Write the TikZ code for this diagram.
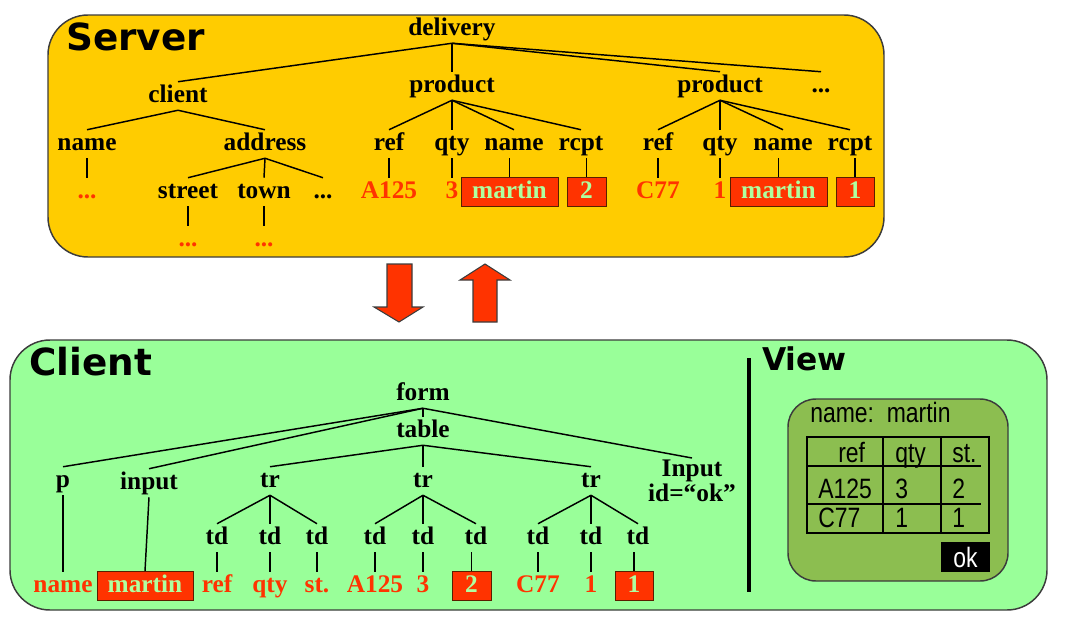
\documentclass[tikz,border=0pt]{standalone}
\usepackage{fontspec}
\setmainfont{Liberation Serif}
\newfontfamily\titlefont{DejaVu Sans}
\newfontfamily\narrowfont[FakeStretch=0.82]{Liberation Sans}
\definecolor{jaune}{RGB}{255, 204, 0}
\definecolor{vert}{RGB}{153, 255, 153}
\definecolor{olive}{RGB}{140, 190, 80}
\definecolor{rouge}{RGB}{255, 51, 0}
\definecolor{clair}{RGB}{175, 255, 160}
\definecolor{bord}{RGB}{60, 60, 60}
\definecolor{brun}{RGB}{90, 30, 0}

\begin{document}
\begin{tikzpicture}[x=0.75pt,y=-0.75pt, % 1 unite = 1 pixel
	lbl/.style={font=\bfseries\fontsize{19}{19}\selectfont, inner sep=1pt, text height=14pt, text depth=5pt, anchor=base},
	val/.style={lbl, text=rouge},
	boite/.style={lbl, draw=brun, fill=rouge, text=clair, inner ysep=1.5pt, minimum width=#1},
	titre/.style={font=\titlefont\bfseries\fontsize{28}{28}\selectfont, anchor=base west, inner sep=0pt},
	vtxt/.style={font=\narrowfont\fontsize{21}{21}\selectfont, inner sep=0pt, anchor=base west},
	trait/.style={line width=1.1pt}]
				\useasboundingbox (0,0) rectangle (1071,628);
				% les deux cadres
				\draw[bord, line width=1.1pt, fill=jaune, rounded corners=30] (48,15) rectangle (884,257);
				\draw[bord, line width=1.1pt, fill=vert, rounded corners=30] (10,340) rectangle (1047,610);
				\node[titre] (srv) at (66,50) {Server};
				\node[titre] (clt) at (29,375) {Client};
				\node[titre, font=\titlefont\bfseries\fontsize{23.5}{24}\selectfont] (vue) at (762,370) {View};
				% les fleches
				\draw[bord, fill=rouge, line width=0.8pt] (387,264) -- (412,264) -- (412,307) -- (423,307) -- (399,322) -- (374,307) -- (387,307) -- cycle;
				\draw[bord, fill=rouge, line width=0.8pt] (473,322) -- (497,322) -- (497,280) -- (510,280) -- (485,264) -- (460,280) -- (473,280) -- cycle;
				% arbre du serveur
				\node[lbl] (deliv) at (452,35) {delivery};
				\node[lbl] (cli) at (178,102) {client};
				\node[lbl] (prod1) at (452,92) {product};
				\node[lbl] (prod2) at (720,92) {product};
				\node[lbl] (etc1) at (821,92) {...};
				\node[lbl] (cname) at (87,150) {name};
				\node[lbl] (addr) at (265,150) {address};
				\node[val] (cnamev) at (87,198) {...};
				\node[lbl] (street) at (188,198) {street};
				\node[lbl] (town) at (264,198) {town};
				\node[lbl] (etc2) at (323,198) {...};
				\node[val] (streetv) at (188,246) {...};
				\node[val] (townv) at (264,246) {...};
				\node[lbl] (ref1) at (389,150) {ref};
				\node[lbl] (qty1) at (452,150) {qty};
				\node[lbl] (name1) at (514,150) {name};
				\node[lbl] (rcpt1) at (581,150) {rcpt};
				\node[val] (refv1) at (389,198) {A125};
				\node[val] (qtyv1) at (452,198) {3};
				\node[boite=72.75pt] (namev1) at (509.5,198) {martin};
				\node[boite=29.25pt] (rcptv1) at (586.5,198) {2};
				\node[lbl] (ref2) at (658,150) {ref};
				\node[lbl] (qty2) at (720,150) {qty};
				\node[lbl] (name2) at (783,150) {name};
				\node[lbl] (rcpt2) at (850,150) {rcpt};
				\node[val] (refv2) at (658,198) {C77};
				\node[val] (qtyv2) at (720,198) {1};
				\node[boite=72.75pt] (namev2) at (778.5,198) {martin};
				\node[boite=28.5pt] (rcptv2) at (855,198) {1};
				\foreach \a/\b in {deliv/cli, deliv/prod1, deliv/prod2, deliv/etc1, cli/cname, cli/addr,
				addr/street, addr/town, addr/etc2, prod1/ref1, prod1/qty1, prod1/name1, prod1/rcpt1,
				prod2/ref2, prod2/qty2, prod2/name2, prod2/rcpt2}
					\draw[trait] (\a.south) -- (\b.north);
				\foreach \a/\b in {cname/cnamev, street/streetv, town/townv, ref1/refv1, qty1/qtyv1,
				name1/namev1, rcpt1/rcptv1, ref2/refv2, qty2/qtyv2, name2/namev2, rcpt2/rcptv2}
					\draw[trait] (\b.north |- \a.south) -- (\b.north);
				% arbre du client
				\node[lbl] (form) at (423,400) {form};
				\node[lbl] (table) at (423,437) {table};
				\node[lbl] (p) at (63,487) {p};
				\node[lbl] (input) at (149,489) {input};
				\node[lbl] (tr1) at (270,487) {tr};
				\node[lbl] (tr2) at (423,487) {tr};
				\node[lbl] (tr3) at (591,487) {tr};
				\node[font=\bfseries\fontsize{19}{18.75}\selectfont, inner sep=1pt, align=center, anchor=north] (inok) at (692,458) {Input\\id=“ok”};
				\foreach \n/\x in {td11/217, td12/270, td13/317, td21/375, td22/423, td23/476, td31/538, td32/591, td33/638}
					\node[lbl] (\n) at (\x,544) {td};
				\node[val] (pv) at (63,592) {name};
				\node[boite=72pt] (inputv) at (145,592) {martin};
				\node[val] (v11) at (217,592) {ref};
				\node[val] (v12) at (270,592) {qty};
				\node[val] (v13) at (317,592) {st.};
				\node[val] (v21) at (375,592) {A125};
				\node[val] (v22) at (423,592) {3};
				\node[boite=29.25pt] (v23) at (471.5,592) {2};
				\node[val] (v31) at (538,592) {C77};
				\node[val] (v32) at (591,592) {1};
				\node[boite=28.5pt] (v33) at (634,592) {1};
				\foreach \a/\b in {form/p, form/input, form/table, form/inok, table/tr1, table/tr2, table/tr3,
				tr1/td11, tr1/td12, tr1/td13, tr2/td21, tr2/td22, tr2/td23, tr3/td31, tr3/td32, tr3/td33, input/inputv}
					\draw[trait] (\a.south) -- (\b.north);
				\foreach \a/\b in {p/pv, td11/v11, td12/v12, td13/v13, td21/v21, td22/v22, td23/v23,
				td31/v31, td32/v32, td33/v33}
					\draw[trait] (\b.north |- \a.south) -- (\b.north);
				% la vue
				\draw[line width=3pt] (749,358) -- (749,592);
				\draw[bord, line width=1.1pt, fill=olive, rounded corners=21] (788,399) rectangle (1008,581);
				\node[vtxt] (nom) at (810,422) {name:\ \ martin};
				\draw[line width=1pt] (807,437) rectangle (989,533);
				\draw[line width=1pt] (883,437) -- (883,533) (941,437) -- (941,533);
				\draw[line width=1pt] (807,466) -- (981,466) (807,504) -- (981,504);
				\node[vtxt] (href) at (838,462) {ref};
				\node[vtxt] (hqty) at (895,462) {qty};
				\node[vtxt] (hst) at (952,462) {st.};
				\node[vtxt] (r1a) at (818,498) {A125};
				\node[vtxt] (r1b) at (895,498) {3};
				\node[vtxt] (r1c) at (952,498) {2};
				\node[vtxt] (r2a) at (818,527) {C77};
				\node[vtxt] (r2b) at (895,527) {1};
				\node[vtxt] (r2c) at (952,527) {1};
				\node[vtxt, anchor=center, fill=black, text=white, minimum width=36.75pt, minimum height=22.5pt] (ok) at (965.5,557) {ok};
			\end{tikzpicture}
\end{document}
